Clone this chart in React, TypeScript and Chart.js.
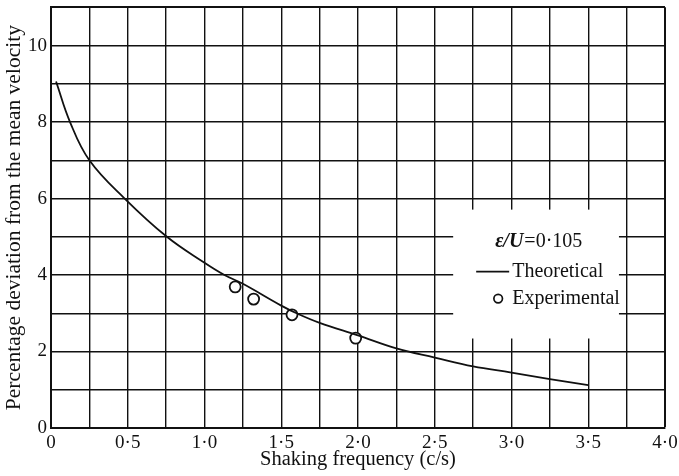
import React, { useEffect, useRef } from 'react';
import { Chart, registerables } from 'chart.js';

Chart.register(...registerables);

// Theoretical curve
const theoryX = [0.033, 0.124, 0.25, 0.48, 0.755, 1.0, 1.13, 1.25, 1.5, 1.6, 1.75, 2.0, 2.25, 2.5, 2.75, 3.0, 3.25, 3.5];
const theoryY = [9.06, 8.0, 7.0, 6.0, 5.0, 4.32, 4.0, 3.77, 3.2, 3.0, 2.75, 2.42, 2.08, 1.84, 1.61, 1.45, 1.28, 1.12];

// Experimental points
const expX = [1.2, 1.32, 1.57, 1.985];
const expY = [3.69, 3.37, 2.96, 2.35];

// Tick labels
const xTickLabels = ['0', '0·5', '1·0', '1·5', '2·0', '2·5', '3·0', '3·5', '4·0'];
const yTickLabels = ['0', '2', '4', '6', '8', '10'];

const xTitle = 'Shaking frequency (c/s)';
const yTitle = 'Percentage deviation from the mean velocity';
const legendParam = 'ε/U';
const legendValue = '=0·105';
const legendTheory = 'Theoretical';
const legendExp = 'Experimental';

const FONT = "'Liberation Serif', 'Times New Roman', serif";
const INK = '#111';

// white legend area, in data units
const BOX = { x0: 2.62, x1: 3.7, y0: 2.34, y1: 5.71 };

const legendPlugin = {
  id: 'boxLegend',
  beforeDatasetsDraw(chart: any) {
    const { ctx, scales } = chart;
    const x = scales.x, y = scales.y;
    const l = x.getPixelForValue(BOX.x0);
    const r = x.getPixelForValue(BOX.x1);
    const t = y.getPixelForValue(BOX.y1);
    const b = y.getPixelForValue(BOX.y0);
    ctx.save();
    ctx.fillStyle = '#fff';
    ctx.fillRect(l, t, r - l, b - t);
    ctx.restore();
  },
  afterDatasetsDraw(chart: any) {
    const { ctx, scales } = chart;
    const x = scales.x, y = scales.y;
    const l = x.getPixelForValue(BOX.x0);
    const t = y.getPixelForValue(BOX.y1);
    ctx.save();
    ctx.fillStyle = INK;
    ctx.strokeStyle = INK;
    ctx.textBaseline = 'alphabetic';
    ctx.textAlign = 'left';
    // parameter line
    ctx.font = `italic bold 20px ${FONT}`;
    const px = l + 42;
    ctx.fillText(legendParam, px, t + 37);
    const w = ctx.measureText(legendParam).width;
    ctx.font = `20px ${FONT}`;
    ctx.fillText(legendValue, px + w + 1, t + 37);
    // theoretical
    ctx.lineWidth = 1.6;
    ctx.beginPath();
    ctx.moveTo(l + 23, t + 62);
    ctx.lineTo(l + 56, t + 62);
    ctx.stroke();
    ctx.fillText(legendTheory, l + 59, t + 67);
    // experimental
    ctx.lineWidth = 1.7;
    ctx.beginPath();
    ctx.arc(l + 45, t + 89, 4.3, 0, Math.PI * 2);
    ctx.stroke();
    ctx.fillText(legendExp, l + 59, t + 94);
    ctx.restore();
  },
};

export default function App() {
  const ref = useRef<HTMLCanvasElement>(null);

  useEffect(() => {
    document.body.style.margin = '0';
    const canvas = ref.current;
    if (!canvas) return;
    const chart = new Chart(canvas, {
      type: 'scatter',
      data: {
        datasets: [
          {
            label: legendTheory,
            data: theoryX.map((v, i) => ({ x: v, y: theoryY[i] })),
            showLine: true,
            borderColor: INK,
            borderWidth: 1.8,
            pointRadius: 0,
            tension: 0.4,
            fill: false,
          },
          {
            label: legendExp,
            data: expX.map((v, i) => ({ x: v, y: expY[i] })),
            showLine: false,
            borderColor: INK,
            backgroundColor: '#fff',
            borderWidth: 1.8,
            pointRadius: 5.5,
            pointStyle: 'circle',
          },
        ],
      },
      options: {
        responsive: false,
        animation: false,
        events: [],
        layout: { padding: { left: 0, top: 6, right: 14, bottom: 0 } },
        plugins: {
          legend: { display: false },
          tooltip: { enabled: false },
        },
        scales: {
          x: {
            type: 'linear',
            min: 0,
            max: 4,
            afterFit(s: any) {
              s.height = 48;
              s.paddingLeft = 0;
              s.paddingRight = 0;
            },
            ticks: {
              stepSize: 0.25,
              autoSkip: false,
              maxRotation: 0,
              padding: 4,
              color: INK,
              font: { family: FONT, size: 19 },
              callback(v: any) {
                const k = Math.round(Number(v) / 0.5);
                return Math.abs(Number(v) - k * 0.5) < 1e-6 ? xTickLabels[k] : '';
              },
            },
            grid: {
              color: INK,
              lineWidth: (c: any) => (c.tick && c.tick.value === 4 ? 2 : 1.4),
              drawTicks: false,
            },
            border: { display: true, color: INK, width: 2 },
            title: {
              display: true,
              text: xTitle,
              color: INK,
              font: { family: FONT, size: 20.5 },
              padding: { top: 0, bottom: 4 },
            },
          },
          y: {
            type: 'linear',
            min: 0,
            max: 11,
            afterFit(s: any) {
              s.width = 51;
              s.paddingTop = 0;
              s.paddingBottom = 0;
            },
            ticks: {
              stepSize: 1,
              autoSkip: false,
              padding: 4,
              color: INK,
              font: { family: FONT, size: 19 },
              callback(v: any) {
                const n = Math.round(Number(v));
                return n % 2 === 0 ? yTickLabels[n / 2] ?? '' : '';
              },
            },
            grid: {
              color: INK,
              lineWidth: (c: any) => (c.tick && c.tick.value === 11 ? 2 : 1.4),
              drawTicks: false,
            },
            border: { display: true, color: INK, width: 2 },
            title: {
              display: true,
              text: yTitle,
              color: INK,
              font: { family: FONT, size: 21.5 },
              padding: { top: 1, bottom: 0 },
            },
          },
        },
      },
      plugins: [legendPlugin],
    } as any);
    return () => chart.destroy();
  }, []);

  return (
    <div style={{ width: 679, height: 476 }}>
      <canvas ref={ref} width={679} height={476} />
    </div>
  );
}
